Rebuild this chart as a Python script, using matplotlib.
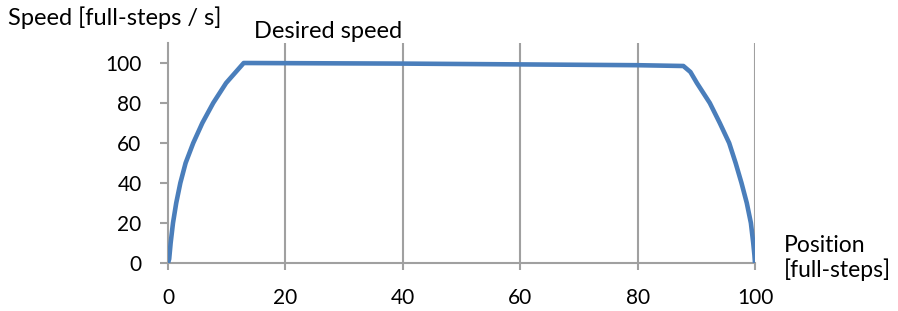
import matplotlib.pyplot as plt

# velocity profile values
accel_x = [0, 0.2, 0.45, 0.85, 1.4, 2.1, 3.0, 4.3, 5.85, 7.7, 9.9, 12.9]
accel_y = [0, 2, 10, 20, 30, 40, 50, 60, 70, 80, 90, 100]

cruise_x = [12.9, 40, 60, 80, 87.8]
cruise_y = [100, 99.7, 99.3, 98.9, 98.5]

decel_x = [87.8, 89.0, 90.1, 92.3, 94.0, 95.6, 96.7, 97.7, 98.6, 99.3, 99.7, 99.9, 100]
decel_y = [98.5, 95.5, 90, 80, 70, 60, 50, 40, 30, 20, 10, 4, 0]

x_ticks = [0, 20, 40, 60, 80, 100]
y_ticks = [0, 20, 40, 60, 80, 100]

pos = accel_x + cruise_x[1:] + decel_x[1:]
speed = accel_y + cruise_y[1:] + decel_y[1:]

plt.rcParams['font.family'] = ['Lato', 'DejaVu Sans']

fig = plt.figure(figsize=(8.98, 3.11), dpi=100)
ax = fig.add_axes([168/898, 48/311, (755-168)/898, (263-43)/311])

grey = '#a0a0a0'
for xv in x_ticks[1:]:
    ax.axvline(xv, color=grey, lw=1.5, zorder=1)

ax.plot(pos, speed, color='#4a7ebb', lw=3.3, solid_joinstyle='round',
        solid_capstyle='butt', zorder=3)

ax.set_xlim(0, 100)
ax.set_ylim(0, 110)
ax.set_xticks(x_ticks)
ax.set_yticks(y_ticks)

for s in ['top', 'right']:
    ax.spines[s].set_visible(False)
for s in ['left', 'bottom']:
    ax.spines[s].set_color(grey)
    ax.spines[s].set_linewidth(1.5)
ax.spines['bottom'].set_zorder(2)

ax.tick_params(axis='x', length=5, width=1.5, color=grey, pad=13, labelsize=15)
ax.tick_params(axis='y', length=6, width=1.5, color=grey, pad=13, labelsize=15)

fig.text(8/898, 1 - 18/311, 'Speed [full-steps / s]', fontsize=17, va='center', ha='left')
fig.text(328/898, 1 - 32/311, 'Desired speed', fontsize=17, va='center', ha='center')
fig.text(784/898, 1 - 258/311, 'Position\n[full-steps]', fontsize=16.5, va='center', ha='left',
         linespacing=1.15)

fig.savefig('out.png', dpi=100)
